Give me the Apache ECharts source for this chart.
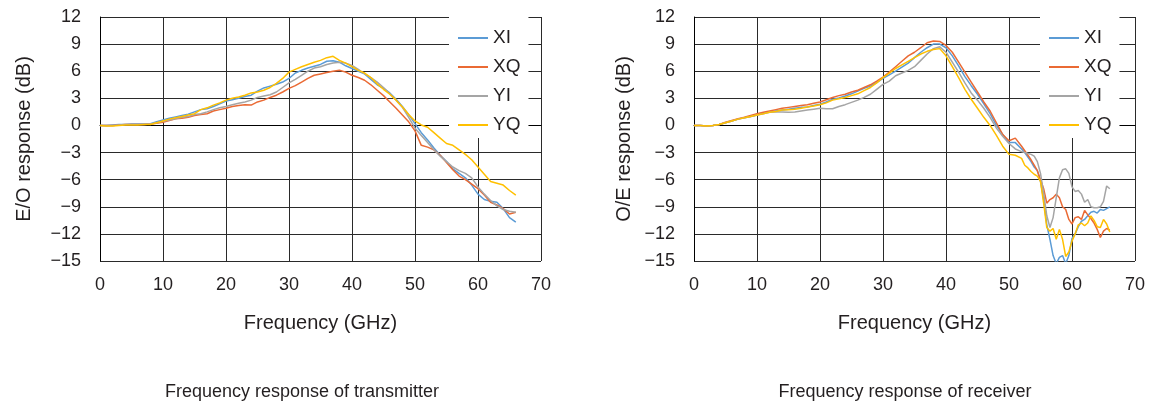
<!DOCTYPE html>
<html>
<head>
<meta charset="utf-8">
<script src="https://cdn.jsdelivr.net/npm/echarts@6/dist/echarts.min.js"></script>
<style>
html,body{margin:0;padding:0;background:#fff;}
#chart{width:1153px;height:401px;}
</style>
</head>
<body>
<div id="chart"></div>
<script>
// ---- Data ----
const seriesNames = ['XI', 'XQ', 'YI', 'YQ'];
const xTicks = [0, 10, 20, 30, 40, 50, 60, 70];
const yTicks = [12, 9, 6, 3, 0, -3, -6, -9, -12, -15];
const captionTx = 'Frequency response of transmitter';
const captionRx = 'Frequency response of receiver';

// Transmitter (E/O) — frequency in GHz
const freqTx = [0,1,2,3,4,5,6,7,8,9,10,11,12,13,14,15,16,17,18,19,20,21,22,23,24,25,26,27,28,29,30,31,32,33,34,35,36,37,38,39,40,41,42,43,44,45,46,47,48,49,50,51,52,53,54,55,56,57,58,59,60,61,62,63,64,65,66];
const XI_tx = [0,0,0.05,0.1,0.1,0.15,0.15,0.15,0.2,0.4, 0.6,0.8,0.95,1.1,1.25,1.5,1.75,1.85,2.1,2.4, 2.7,2.85,3.0,3.2,3.35,3.8,4.15,4.35,4.55,4.8, 5.2,5.8,6.1,6.35,6.55,6.75,7.1,7.15,7.0,6.6, 6.3,6.0,5.7,5.1,4.5,4.1,3.6,2.9,2.1,1.2, 0.2,-0.8,-1.6,-2.5,-3.3,-4.0,-4.8,-5.3,-5.8,-6.6, -7.6,-8.2,-8.4,-8.5,-9.2,-10.2,-10.7];
const XQ_tx = [0,0,0,0.05,0.1,0.1,0.1,0.1,0.15,0.25, 0.35,0.55,0.75,0.8,0.9,1.1,1.2,1.3,1.6,1.75, 1.9,2.1,2.2,2.3,2.25,2.6,2.8,3.1,3.35,3.7, 4.1,4.4,4.8,5.2,5.55,5.7,5.85,6.0,6.1,5.9, 5.55,5.3,5.0,4.5,3.9,3.3,2.6,1.9,1.15,0.4, -0.6,-2.2,-2.4,-2.7,-3.3,-4.1,-4.9,-5.6,-6.0,-6.5, -7.0,-7.7,-8.5,-8.8,-9.2,-9.8,-9.6];
const YI_tx = [0,0,0,0.05,0.1,0.1,0.1,0.1,0.15,0.3, 0.45,0.6,0.75,0.9,1.0,1.2,1.3,1.5,1.75,1.95, 2.1,2.3,2.45,2.6,2.8,3.1,3.25,3.4,3.7,4.2, 4.7,5.1,5.55,6.0,6.35,6.5,6.75,6.9,7.0,6.9, 6.65,6.2,5.7,5.3,4.8,4.2,3.5,2.8,2.0,0.9, -0.3,-1.1,-1.9,-2.7,-3.4,-4.0,-4.6,-5.0,-5.3,-5.8, -6.8,-7.6,-8.3,-8.9,-9.3,-9.5,-9.6];
const YQ_tx = [0,-0.05,-0.05,0,0.05,0.05,0.05,0.1,0.1,0.3, 0.5,0.7,0.85,1.0,1.15,1.3,1.75,1.95,2.25,2.5, 2.8,3.0,3.15,3.35,3.6,3.7,3.9,4.2,4.65,5.2, 5.9,6.2,6.5,6.75,7.0,7.2,7.5,7.65,7.2,6.9, 6.5,6.1,5.8,5.3,4.6,4.0,3.45,2.8,2.05,1.2, 0.5,0.05,-0.2,-0.8,-1.4,-2.0,-2.2,-2.7,-3.2,-3.8, -4.6,-5.4,-6.2,-6.4,-6.6,-7.2,-7.7];

// Receiver (O/E) — frequency in GHz
const freqRx = [0,1,2,3,4,5,6,7,8,9,10,11,12,13,14,15,16,17,18,19,20,21,22,23,24,25,26,27,28,29,30,31,32,33,34,35,36,37,38,39,40,41,42,43,44,45,46,47,48,49,50,51,
  52,52.5,53,53.5,54,54.5,55,55.5,56,56.5,57,57.5,58,58.5,59,59.5,60,60.5,61,61.5,62,62.5,63,63.5,64,64.5,65,65.5,66];
const XI_rx = [0,0,-0.05,0,0.1,0.3,0.5,0.7,0.85,1.0, 1.15,1.35,1.5,1.6,1.7,1.8,1.9,2.0,2.05,2.2, 2.35,2.6,2.9,3.05,3.25,3.5,3.8,4.1,4.35,4.75, 5.2,5.6,6.0,6.45,6.9,7.5,8.1,8.6,9.0,9.0, 8.6,7.7,6.6,5.4,4.4,3.45,2.4,1.3,0.0,-1.0, -1.9,-1.9,
  -2.6,-3.0,-3.5,-4.0,-4.6,-5.0,-6.2,-8.2,-11.0,-12.6,-14.4,-15.3,-14.6,-14.4,-15.3,-14.4,-12.5,-12.0,-11.2,-10.6,-10.4,-10.0,-9.6,-9.5,-9.7,-9.3,-9.4,-9.2,-9.0];
const XQ_rx = [0,0,-0.05,0,0.1,0.35,0.55,0.75,0.9,1.1, 1.3,1.45,1.6,1.75,1.9,2.0,2.1,2.2,2.3,2.45, 2.6,2.85,3.1,3.3,3.45,3.7,3.9,4.2,4.5,4.9, 5.35,5.9,6.5,7.1,7.7,8.1,8.6,9.15,9.35,9.3, 8.85,8.1,7.0,5.9,4.8,3.7,2.6,1.6,0.3,-1.0, -1.7,-1.4,
  -2.3,-2.8,-3.3,-3.8,-4.4,-5.0,-6.0,-7.0,-8.6,-8.2,-8.0,-7.6,-8.0,-9.0,-9.3,-10.4,-10.9,-10.2,-10.1,-10.4,-9.4,-9.9,-10.3,-10.8,-11.5,-12.4,-11.7,-11.4,-11.6];
const YI_rx = [0,0,-0.05,0,0.1,0.3,0.5,0.7,0.85,1.0, 1.15,1.3,1.45,1.5,1.5,1.45,1.5,1.6,1.7,1.8, 1.9,1.85,1.85,2.1,2.3,2.55,2.8,3.1,3.45,4.0, 4.55,4.9,5.5,5.8,6.1,6.5,7.2,7.9,8.5,8.7, 8.1,7.0,5.9,4.7,3.6,2.8,1.9,0.9,-0.3,-1.2, -2.0,-2.6,
  -2.9,-3.0,-3.1,-3.2,-3.4,-4.0,-5.3,-7.5,-10.0,-11.3,-10.2,-8.0,-5.8,-4.9,-4.8,-5.3,-6.8,-7.3,-7.2,-7.6,-8.5,-8.2,-9.0,-9.1,-9.1,-9.0,-8.4,-6.7,-7.0];
const YQ_rx = [0,0,-0.05,0,0.1,0.3,0.5,0.7,0.85,1.0, 1.15,1.3,1.45,1.55,1.7,1.75,1.8,1.9,2.05,2.15, 2.3,2.5,2.8,2.95,3.1,3.3,3.5,3.85,4.2,4.7, 5.3,5.8,6.3,6.7,7.1,7.5,7.9,8.2,8.4,8.5, 7.7,6.5,5.3,4.0,2.9,1.9,0.9,0.0,-1.1,-2.3, -3.2,-3.3,
  -3.65,-4.4,-4.7,-5.1,-5.4,-5.6,-6.2,-8.6,-11.3,-11.7,-11.4,-12.6,-11.5,-12.6,-14.5,-14.0,-12.8,-12.0,-11.0,-10.8,-11.1,-10.8,-10.0,-10.5,-11.2,-11.3,-10.4,-10.9,-11.8];

// ---- Styling ----
const colors = ['#5B9BD5', '#EA6A34', '#A5A5A5', '#FFC000'];
const FONT = '"Liberation Sans", Arial, Helvetica, sans-serif';
const TXT = '#231F20';
const GRIDC = '#2a2a2a';

const txData = [XI_tx, XQ_tx, YI_tx, YQ_tx];
const rxData = [XI_rx, XQ_rx, YI_rx, YQ_rx];
const zip = (xs, ys) => xs.map((x, i) => [x, ys[i]]);
const fmt = v => String(v).replace('-', '\u2212');

function xAxis(gridIndex) {
  return {
    type: 'value', gridIndex, min: xTicks[0], max: xTicks[xTicks.length - 1], interval: 10,
    name: 'Frequency (GHz)', nameLocation: 'middle', nameGap: 52,
    nameTextStyle: { fontSize: 20, color: TXT, fontFamily: FONT },
    axisLine: { show: true, lineStyle: { color: '#000', width: 1 } },
    axisTick: { show: false },
    axisLabel: { fontSize: 18, color: TXT, fontFamily: FONT, margin: 15, formatter: fmt },
    splitLine: { show: true, lineStyle: { color: GRIDC, width: 1 } }
  };
}
function yAxis(gridIndex, name, gap) {
  return {
    type: 'value', gridIndex, min: yTicks[yTicks.length - 1], max: yTicks[0], interval: 3,
    name, nameLocation: 'middle', nameGap: gap, nameRotate: 90,
    nameTextStyle: { fontSize: 20, color: TXT, fontFamily: FONT },
    axisLine: { show: true, onZero: false, lineStyle: { color: '#000', width: 1 } },
    axisTick: { show: false },
    axisLabel: { fontSize: 18, color: TXT, fontFamily: FONT, margin: 19, formatter: fmt },
    splitLine: { show: true, lineStyle: { color: GRIDC, width: 1 } }
  };
}
function legend(left) {
  return {
    data: seriesNames, orient: 'vertical', left, top: 17,
    backgroundColor: '#fff', padding: [11, 8, 3, 9],
    icon: 'rect', itemWidth: 30, itemHeight: 2, itemGap: 9,
    textStyle: { fontSize: 19, color: TXT, fontFamily: FONT, lineHeight: 20 },
    selectedMode: false
  };
}

const series = [];
seriesNames.forEach((n, i) => {
  series.push({ name: n, type: 'line', xAxisIndex: 0, yAxisIndex: 0, data: zip(freqTx, txData[i]),
    symbol: 'none', showSymbol: false, clip: true, lineStyle: { width: 1.5, color: colors[i] }, itemStyle: { color: colors[i] }, z: 3 });
});
seriesNames.forEach((n, i) => {
  series.push({ name: n, type: 'line', xAxisIndex: 1, yAxisIndex: 1, data: zip(freqRx, rxData[i]),
    symbol: 'none', showSymbol: false, clip: true, lineStyle: { width: 1.5, color: colors[i] }, itemStyle: { color: colors[i] }, z: 3 });
});

const option = {
  animation: false,
  backgroundColor: '#fff',
  color: colors,
  textStyle: { fontFamily: FONT },
  title: [
    { text: captionTx, left: 297, top: 378, textAlign: 'center', textStyle: { fontSize: 18, fontWeight: 'normal', color: TXT, fontFamily: FONT } },
    { text: captionRx, left: 900, top: 378, textAlign: 'center', textStyle: { fontSize: 18, fontWeight: 'normal', color: TXT, fontFamily: FONT } }
  ],
  grid: [
    { left: 100, top: 17, width: 441, height: 244, show: false },
    { left: 694, top: 17, width: 441, height: 244, show: false }
  ],
  xAxis: [xAxis(0), xAxis(1)],
  yAxis: [yAxis(0, 'E/O response (dB)', 66), yAxis(1, 'O/E response (dB)', 60)],
  legend: [legend(449), legend(1040)],
  series
};

const chart = echarts.init(document.getElementById('chart'), null, { renderer: 'canvas' });
chart.setOption(option);
</script>
</body>
</html>
